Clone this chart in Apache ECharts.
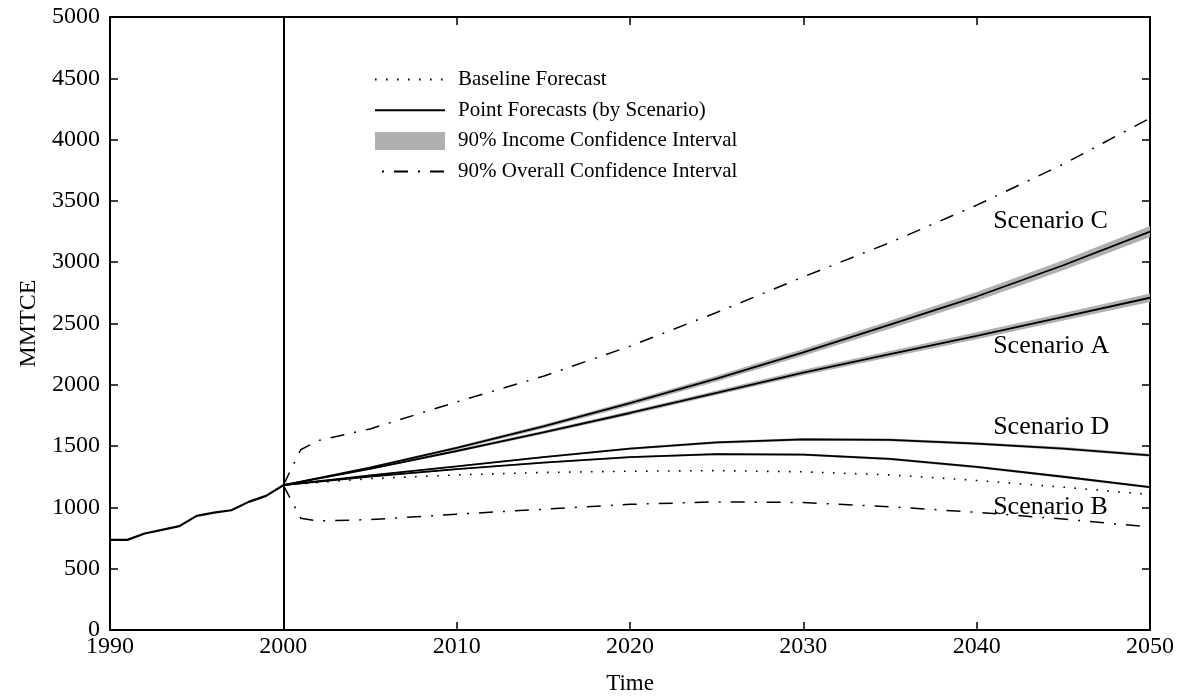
<!DOCTYPE html>
<html><head><meta charset="utf-8">
<script src="https://cdn.jsdelivr.net/npm/echarts@6/dist/echarts.min.js"></script>
<style>html,body{margin:0;padding:0;background:#fff}#c{width:1185px;height:700px}</style>
</head><body><div id="c"></div>
<script>
// ---------- data ----------
const histYears = [1990,1991,1992,1993,1994,1995,1996,1997,1998,1999,2000];
const histValues = [735,735,787,817,847,931,958,977,1045,1094,1181];

const scenYears = [2000,2005,2010,2015,2020,2025,2030,2035,2040,2045,2050];
const baseline  = [1181,1235,1265,1285,1295,1300,1290,1265,1220,1165,1105];
const scenC     = [1181,1325,1485,1660,1850,2050,2265,2490,2720,2975,3250];
const scenA     = [1181,1315,1460,1612,1770,1935,2100,2250,2400,2555,2710];
const scenD     = [1181,1262,1335,1410,1480,1530,1555,1550,1520,1480,1425];
const scenB     = [1181,1252,1312,1365,1410,1435,1430,1395,1330,1250,1165];
// half-widths of the 90% income confidence bands
const halfC = [0,8,12,16,20,24,28,32,36,40,45];
const halfA = [0,7,10,13,16,19,22,25,28,31,34];
const halfD = [0,4,6,8,9,10,11,11,12,12,12];
const halfB = [0,4,6,7,8,9,9,10,10,10,10];

const overallYears = [2000,2001,2002,2005,2010,2015,2020,2025,2030,2035,2040,2045,2050];
const overallHi = [1181,1470,1545,1640,1860,2070,2315,2590,2880,3160,3465,3800,4175];
const overallLo = [1181,912,890,900,945,985,1025,1045,1040,1005,960,905,840];

const labelNames  = ['Scenario C','Scenario A','Scenario D','Scenario B'];
const labelYears  = [2040.95,2040.95,2040.95,2040.95];
const labelValues = [3331,2313,1653,1002];

const xTicks = {min:1990, max:2050, interval:10};
const yTicks = {min:0, max:5000, interval:500};

// ---------- chart ----------
const FONT = "'Liberation Serif','Times New Roman',serif";
const BAND = '#b0b0b0';
const N_BASE = 'Baseline Forecast';
const N_POINT = 'Point Forecasts (by Scenario)';
const N_INC = '90% Income Confidence Interval';
const N_ALL = '90% Overall Confidence Interval';
const DASHDOT = [14,10,2,10];

const pairs = (xs, ys) => xs.map((x,i)=>[x, ys[i]]);

function band(pts, half) {
  const data = scenYears.map((y,i)=>[y, pts[i]-half[i], pts[i]+half[i]]);
  return {
    type:'custom', name:N_INC, data:data, silent:true, z:1,
    encode:{x:0, y:[1,2]},
    itemStyle:{color:BAND},
    renderItem:function(params, api){
      if (params.dataIndex !== 0) return null;
      const up = data.map(d=>api.coord([d[0], d[2]]));
      const lo = data.map(d=>api.coord([d[0], d[1]])).reverse();
      return {type:'polygon', shape:{points:up.concat(lo)}, style:{fill:BAND}};
    }
  };
}
function pointLine(pts){
  return {type:'line', name:N_POINT, data:pairs(scenYears, pts), symbol:'none',
    lineStyle:{color:'#000', width:1.8}, itemStyle:{color:'#000'}, z:3, silent:true};
}
function overall(vals){
  return {type:'line', name:N_ALL, data:pairs(overallYears, vals), symbol:'none',
    lineStyle:{color:'#000', width:1.5, type:DASHDOT}, itemStyle:{color:'#000'}, z:2, silent:true};
}

const axisCommon = {
  axisLine:{show:true, onZero:false, lineStyle:{color:'#000', width:2}},
  axisTick:{show:true, inside:true, length:8, lineStyle:{color:'#000', width:1.5}},
  splitLine:{show:false}
};
const plain = v => String(v);
const hiddenSym = {color:'rgba(0,0,0,0)', opacity:0, borderWidth:0};

const option = {
  animation:false,
  backgroundColor:'#fff',
  textStyle:{fontFamily:FONT, color:'#000'},
  grid:{left:110, right:35, top:17, bottom:69, containLabel:false},
  xAxis:[
    Object.assign({type:'value', position:'bottom', min:xTicks.min, max:xTicks.max, interval:xTicks.interval,
      axisLabel:{color:'#000', fontSize:24, fontFamily:FONT, margin:5, formatter:plain},
      name:'Time', nameLocation:'middle', nameGap:42,
      nameTextStyle:{color:'#000', fontSize:23, fontFamily:FONT}}, axisCommon),
    Object.assign({type:'value', position:'top', min:xTicks.min, max:xTicks.max, interval:xTicks.interval,
      axisLabel:{show:false}}, axisCommon)
  ],
  yAxis:[
    Object.assign({type:'value', position:'left', min:yTicks.min, max:yTicks.max, interval:yTicks.interval,
      axisLabel:{color:'#000', fontSize:24, fontFamily:FONT, margin:10, formatter:plain},
      name:'MMTCE', nameLocation:'middle', nameRotate:90, nameGap:58,
      nameTextStyle:{color:'#000', fontSize:24, fontFamily:FONT}}, axisCommon),
    Object.assign({type:'value', position:'right', min:yTicks.min, max:yTicks.max, interval:yTicks.interval,
      axisLabel:{show:false}}, axisCommon)
  ],
  legend:{
    orient:'vertical', left:369, top:64, itemWidth:70, itemHeight:18, itemGap:9.7,
    textStyle:{fontSize:21, fontFamily:FONT, color:'#000', padding:[0,0,0,8]},
    selectedMode:false,
    data:[
      {name:N_BASE, itemStyle:hiddenSym},
      {name:N_POINT, itemStyle:hiddenSym},
      {name:N_INC, icon:'rect', itemStyle:{color:BAND}},
      {name:N_ALL, itemStyle:hiddenSym, lineStyle:{dashOffset:17}}
    ]
  },
  series:[
    band(scenC, halfC), band(scenA, halfA), band(scenD, halfD), band(scenB, halfB),
    {type:'line', name:'Historical', data:pairs(histYears, histValues), symbol:'none',
      lineStyle:{color:'#000', width:2.2}, z:3, silent:true,
      markLine:{silent:true, symbol:'none', label:{show:false},
        lineStyle:{color:'#000', width:2, type:'solid'},
        data:[{xAxis:2000}]}},
    {type:'line', name:N_BASE, data:pairs(scenYears, baseline), symbol:'none',
      lineStyle:{color:'#000', width:1.6, type:[1.6,9.4]}, itemStyle:{color:'#000'}, z:2, silent:true},
    pointLine(scenC), pointLine(scenA), pointLine(scenD), pointLine(scenB),
    overall(overallHi), overall(overallLo),
    {type:'scatter', name:'labels', symbolSize:0, silent:true, z:5,
      itemStyle:{color:'rgba(0,0,0,0)', opacity:1},
      data:labelNames.map((n,i)=>[labelYears[i], labelValues[i], n]),
      label:{show:true, position:[0,0], align:'left', verticalAlign:'middle',
        formatter:p=>p.data[2], fontSize:26, fontFamily:FONT, color:'#000', opacity:1}}
  ]
};
echarts.init(document.getElementById('c')).setOption(option);
</script>
</body></html>
